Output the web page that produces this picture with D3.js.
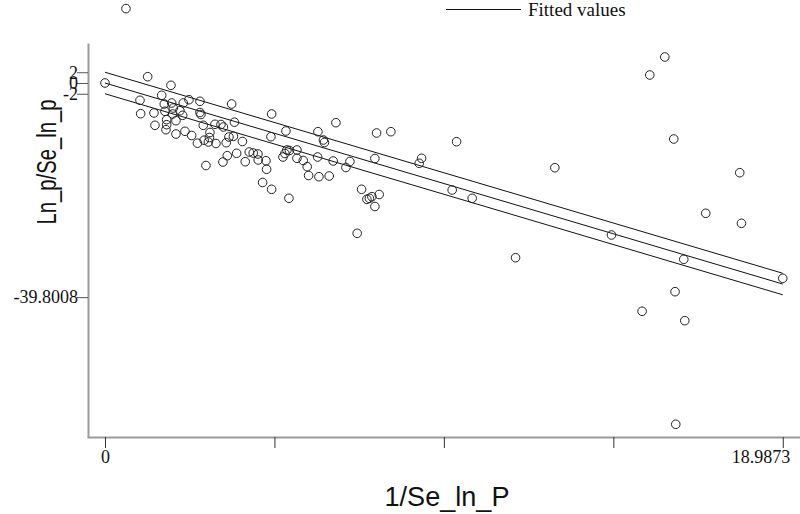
<!DOCTYPE html>
<html>
<head>
<meta charset="utf-8">
<script src="https://cdn.jsdelivr.net/npm/d3@7"></script>
<style>
  body { margin: 0; background: #fff; }
  svg { display: block; }
</style>
</head>
<body>
<svg id="chart" width="800" height="514"></svg>
<script>
// galbraith plot: x = 1/se, y = ln_p/se
let precision = [0, 0.588, 1.196, 1.848, 1.588, 0.980, 2.352, 2.660, 3.548, 1.661,
  1.868, 2.193, 1.000, 1.372, 1.680, 1.913, 2.100, 1.896, 2.176, 1.728,
  1.988, 2.660, 2.688, 1.400, 1.728, 1.708, 2.240, 1.988, 2.428, 2.753,
  3.080, 3.248, 3.318, 3.626, 2.940, 2.926, 2.778, 2.590, 2.898, 3.108,
  3.397, 3.472, 3.598, 3.850, 4.668, 5.069, 4.649, 2.828, 3.304, 3.425,
  3.688, 3.929, 4.041, 4.153, 4.285, 4.293, 4.509, 4.528, 4.416, 4.668,
  5.153, 4.985, 5.041, 5.097, 5.167, 5.377, 5.377, 5.553, 5.665, 5.704,
  5.993, 6.281, 5.956, 5.965, 6.119, 6.147, 6.469, 6.393, 6.861, 6.749,
  7.561, 7.609, 8.009, 7.188, 7.337, 7.407, 7.477, 7.681, 7.561, 7.065,
  8.802, 8.869, 9.849, 9.726, 10.286, 11.501, 12.602, 14.189, 15.262, 15.682,
  15.934, 17.782, 16.830, 17.830, 16.214, 18.9873, 15.970, 15.046, 16.242, 15.990];
let zscore = [0, 13.83, 1.171, -0.428, -2.286, -3.216, -3.104, -3.401, -3.903, -3.903,
  -3.717, -3.717, -5.706, -5.576, -5.260, -4.647, -5.149, -5.762, -6.004, -6.822,
  -7.007, -5.483, -5.855, -7.862, -7.751, -8.680, -8.978, -9.480, -9.758, -7.862,
  -7.677, -7.714, -8.178, -7.286, -9.201, -10.130, -10.632, -11.190, -10.967, -11.245,
  -11.097, -10.037, -9.907, -10.874, -5.762, -8.922, -9.981, -15.335, -14.684, -13.513,
  -13.067, -14.628, -12.825, -13.011, -13.197, -14.312, -14.442, -16.041, -18.494, -19.758,
  -21.431, -13.755, -13.104, -12.454, -12.546, -12.454, -13.996, -14.405, -15.558, -17.193,
  -17.416, -17.286, -13.755, -9.052, -10.595, -11.059, -7.379, -14.498, -14.591, -15.706,
  -14.033, -9.294, -9.052, -19.758, -21.617, -21.431, -21.134, -20.725, -22.955, -27.937,
  -14.926, -13.996, -10.911, -19.888, -21.431, -32.472, -15.743, -28.253, 1.487, 4.833,
  -10.409, -16.673, -24.219, -26.078, -32.770, -36.30, -38.792, -42.435, -44.182, -63.439];

let slope = -1.968;
let bandOffsets = [2, 0, -2];
let xTickValues = [0, 4.7468, 9.4937, 14.2405, 18.9873];
let xTickLabels = ["0", "", "", "", "18.9873"];
let yTickValues = [2, 0, -2, -39.8008];
let yTickLabels = ["2", "0", "-2", "-39.8008"];

let points = precision.map((p, i) => ({x: p, y: zscore[i]}));

let svg = d3.select("#chart");

let x = d3.scaleLinear().domain([-0.504, 19.47]).range([87, 800]);
let y = d3.scaleLinear().domain([7.435, -65.8]).range([43, 437]);

let serif = "'Liberation Serif', 'Times New Roman', serif";
let sans = "'Liberation Sans', Arial, sans-serif";

// axes
let xAxis = svg.append("g").attr("transform", `translate(0,${y.range()[1]})`)
  .call(d3.axisBottom(x).tickValues(xTickValues).tickSizeInner(11).tickSizeOuter(0)
    .tickFormat((d, i) => xTickLabels[i]));
xAxis.select(".domain").attr("stroke", "#9a9a9a").attr("stroke-width", 2);
xAxis.selectAll(".tick line").attr("stroke", "#333");
xAxis.selectAll(".tick text").attr("font-family", serif).attr("font-size", 18)
  .attr("fill", "#111").attr("y", 12).attr("dy", "0.8em");
xAxis.selectAll(".tick").filter((d, i) => i === xTickValues.length - 1)
  .select("text").attr("text-anchor", "end").attr("dx", 7);

let yAxis = svg.append("g").attr("transform", `translate(${x.range()[0] + 1},0)`)
  .call(d3.axisLeft(y).tickValues(yTickValues).tickSizeInner(11).tickSizeOuter(0)
    .tickFormat((d, i) => yTickLabels[i]));
yAxis.select(".domain").attr("stroke", "#9a9a9a").attr("stroke-width", 2);
yAxis.selectAll(".tick line").attr("stroke", "#555");
yAxis.selectAll(".tick text").attr("font-family", serif).attr("font-size", 18)
  .attr("fill", "#111").attr("x", -10);

// fitted line and +/-2 band
let xEnds = [0, d3.max(precision)];
let line = d3.line().x(d => x(d[0])).y(d => y(d[1]));
svg.append("g").selectAll("path")
  .data(bandOffsets)
  .join("path")
  .attr("d", b => line(xEnds.map(v => [v, slope * v + b])))
  .attr("fill", "none")
  .attr("stroke", "#111")
  .attr("stroke-width", 1);

// scatter
svg.append("g").selectAll("circle")
  .data(points)
  .join("circle")
  .attr("cx", d => x(d.x))
  .attr("cy", d => y(d.y))
  .attr("r", 4.3)
  .attr("fill", "none")
  .attr("stroke", "#222")
  .attr("stroke-width", 1);

// legend
let legend = svg.append("g").attr("transform", "translate(446,9.5)");
legend.append("line").attr("x1", 0).attr("x2", 75).attr("stroke", "#111");
legend.append("text").attr("x", 82).attr("y", 6.5)
  .attr("font-family", serif).attr("font-size", 19).attr("fill", "#111")
  .text("Fitted values");

// axis titles
svg.append("text")
  .attr("transform", "translate(56,162) rotate(-90)")
  .attr("text-anchor", "middle")
  .attr("font-family", sans).attr("font-size", 28).attr("fill", "#111")
  .attr("textLength", 125).attr("lengthAdjust", "spacingAndGlyphs")
  .text("Ln_p/Se_ln_p");
svg.append("text")
  .attr("x", 447).attr("y", 506)
  .attr("text-anchor", "middle")
  .attr("font-family", sans).attr("font-size", 27).attr("fill", "#111")
  .attr("textLength", 125).attr("lengthAdjust", "spacingAndGlyphs")
  .text("1/Se_ln_P");
</script>
</body>
</html>
